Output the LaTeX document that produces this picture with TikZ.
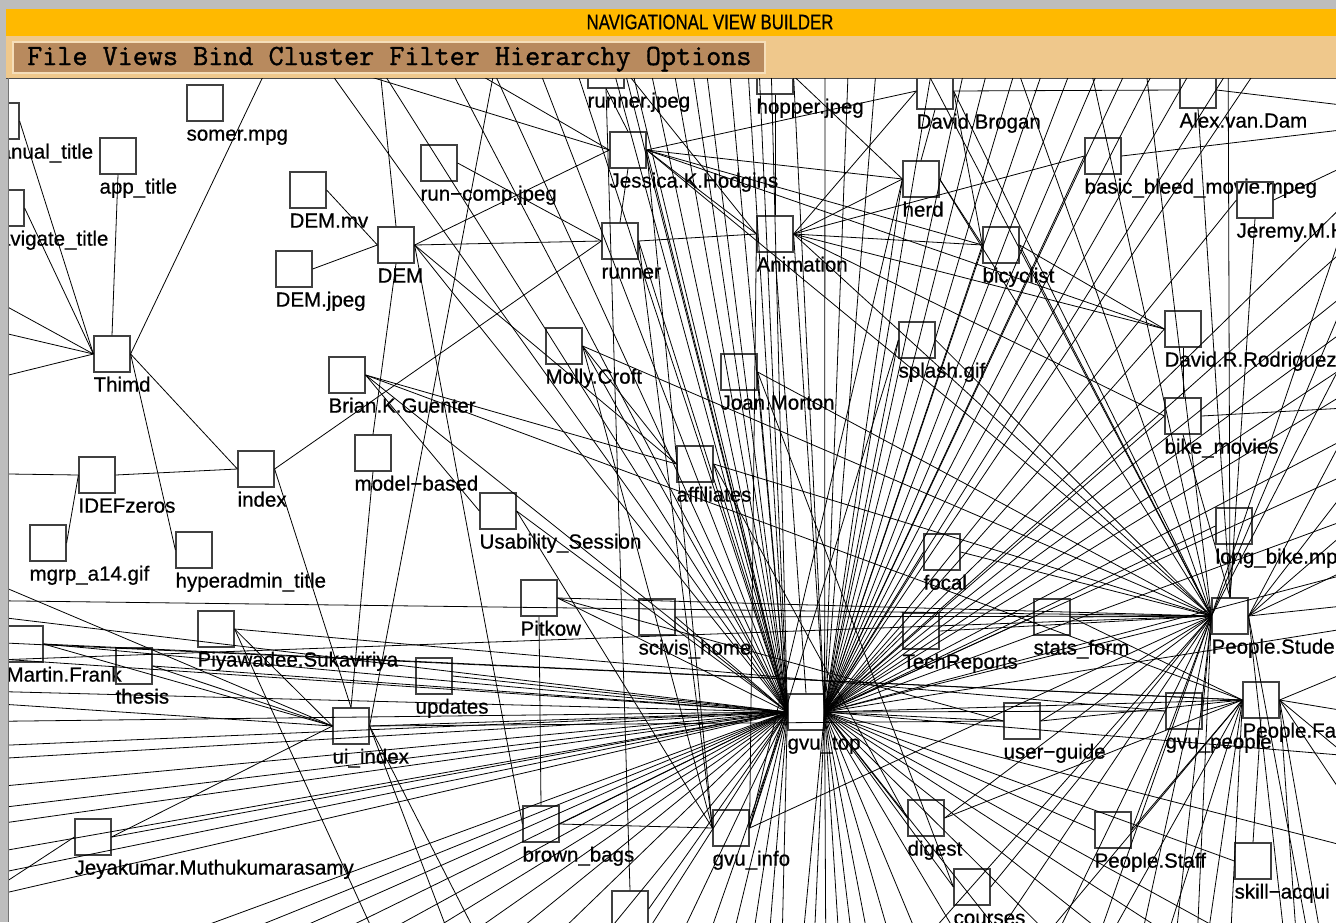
\documentclass[tikz,border=0pt]{standalone}
\usepackage{fontspec}
\setmainfont{Liberation Sans}
\newfontfamily\lblfont[FakeBold=0.6]{Liberation Sans}
\newfontfamily\menufont[FakeBold=1.2]{Latin Modern Mono}
\usepackage{graphicx}

\definecolor{titleorange}{HTML}{FFB900}
\definecolor{menutan}{HTML}{EFC88C}
\definecolor{menubrown}{HTML}{B88A5E}
\definecolor{framegray}{HTML}{BDBDBD}

\tikzset{
  box/.style={draw=black!75, line width=1.2pt, minimum size=36pt, inner sep=0pt},
  lbl/.style={anchor=base west, inner sep=0pt, font=\lblfont\fontsize{20.5}{22}\selectfont},
  link/.style={line width=0.8pt}
}

\begin{document}
\begin{tikzpicture}[x=1pt,y=-1pt]
\useasboundingbox (0,0) rectangle (1336,922);

\fill[framegray] (0,0) rectangle (1336,922);
\fill[titleorange] (6,9) rectangle (1336,36);
\node (title) at (710,22) {\lblfont\fontsize{21}{22}\selectfont\scalebox{0.8}[1]{NAVIGATIONAL VIEW BUILDER}};
\fill[menutan] (6,36) rectangle (1336,78);
\draw[fill=menubrown, draw=menutan!60!white, line width=1.5pt] (13,42) rectangle (765,73);
\node[anchor=base west, inner sep=0pt] (menu) at (27,65) {\menufont\fontsize{29.3}{30}\selectfont File Views Bind Cluster Filter Hierarchy Options};
\fill[white] (9,78) rectangle (1336,922);
\draw[black!70, line width=1pt] (6,78) -- (1336,78);

\begin{scope}
\clip (9,78) rectangle (1336,922);

\foreach \n/\x/\y/\t in {
  manual/1/121/manual\_title, apptitle/118/156/app\_title, navigate/6/208/navigate\_title,
  somer/205/103/somer.mpg, demmv/308/190/DEM.mv, demjpeg/294/269/DEM.jpeg, dem/396/245/DEM,
  thimd/112/354/Thimd, runcomp/439/163/run−comp.jpeg, runnerjpeg/606/70/runner.jpeg,
  jessica/628/150/Jessica.K.Hodgins, runner/620/241/runner, hopper/775/76/hopper.jpeg,
  animation/775/234/Animation, molly/564/346/Molly.Croft, joan/739/372/Joan.Morton,
  brogan/935/91/David.Brogan, alex/1198/90/Alex.van.Dam, basic/1103/156/basic\_bleed\_movie.mpeg,
  herd/921/179/herd, jeremy/1255/200/Jeremy.M.H, bicyclist/1001/245/bicyclist,
  splash/917/340/splash.gif, rodriguez/1183/329/David.R.Rodriguez, bikemovies/1183/416/bike\_movies,
  longbike/1234/526/long\_bike.mp, students/1230/616/People.Stude, stats/1052/617/stats\_form,
  focal/942/552/focal, techrep/921/631/TechReports, affiliates/695/464/affiliates,
  brian/347/375/Brian.K.Guenter, model/373/453/model−based, index/256/469/index,
  idef/97/475/IDEFzeros, mgrp/48/543/mgrp\_a14.gif, hyper/194/550/hyperadmin\_title,
  usability/498/511/Usability\_Session, pitkow/539/598/Pitkow, scivis/657/617/scivis\_home,
  piya/216/629/Piyawadee.Sukaviriya, martin/25/644/Martin.Frank, thesis/134/666/thesis,
  updates/434/676/updates, uiindex/351/726/ui\_index, gvutop/806/712/gvu\_top,
  userguide/1022/721/user−guide, gvupeople/1184/711/gvu\_people, faculty/1261/700/People.Fa,
  jeyakumar/93/837/Jeyakumar.Muthukumarasamy, brown/541/824/brown\_bags, gvuinfo/731/828/gvu\_info,
  digest/926/818/digest, courses/972/887/courses, staff/1113/830/People.Staff,
  skill/1253/861/skill−acqui}
{
  \node[box] (\n) at (\x,\y) {};
  \node[lbl] (\n-t) at ([yshift=-19pt]\n.south west) {\t};
}
\node[box] (bottombox) at (630,909) {};

\foreach \i/\x/\y in {1/-60/270, 2/-60/318, 3/-60/392, 4/-60/473, 5/-60/560, 6/-60/925, 7/-60/700}
  \coordinate (lf\i) at (\x,\y);
\foreach \i/\x/\y in {1/290/20, 2/375/20, 3/300/30, 4/420/40, 5/250/40, 6/500/40, 7/1228/20}
  \coordinate (tp\i) at (\x,\y);
\foreach \i/\x/\y in {1/1400/123, 2/1400/112, 3/1400/140, 4/1400/405}
  \coordinate (rt\i) at (\x,\y);
\foreach \i/\x/\y in {1/470/990, 2/505/990, 3/400/990}
  \coordinate (bt\i) at (\x,\y);

\foreach \i/\x/\y in {1/-60/690, 2/-60/722, 3/-60/748, 4/-60/762, 5/-60/792, 6/-60/832, 7/-60/862,
  8/-60/885, 9/-60/908, 10/30/990, 11/100/990, 12/160/990, 13/220/990, 14/280/990, 15/335/990,
  16/390/990, 17/445/990, 18/500/990, 19/560/990, 20/610/990, 21/655/990, 22/690/990, 23/720/990,
  24/745/990, 25/765/990, 26/781/990, 27/560/20, 28/640/20, 29/700/20, 30/745/20, 31/770/20,
  32/600/20, 33/620/20, 34/665/20, 35/685/20, 36/725/20, 37/757/20, 38/350/20, 39/430/30,
  40/470/20, 41/520/20, 42/-60/610, 43/-60/655, 44/-60/815}
  \coordinate (gw\i) at (\x,\y);
\foreach \i/\x/\y in {1/798/990, 2/812/990, 3/826/990, 4/842/990, 5/858/990, 6/878/990, 7/905/990,
  8/940/990, 9/990/990, 10/1045/990, 11/1105/990, 12/1175/990, 13/1255/990, 14/1330/990,
  15/1400/860, 16/1400/450, 17/1400/360, 18/1400/290, 19/1400/200, 20/1000/20, 21/1060/20,
  22/1120/20, 23/1180/20, 24/1290/20, 25/850/20, 26/880/20, 27/825/20, 28/1400/150,
  29/1400/250, 30/1400/330, 31/1400/410, 32/1400/500, 33/1400/560, 34/1400/620, 35/1400/760,
  36/940/20, 37/975/20, 38/1030/20, 39/1090/20, 40/1150/20, 41/1220/20, 42/1260/20}
  \coordinate (ge\i) at (\x,\y);
\foreach \i/\x/\y in {1/880/990, 2/960/990, 3/1030/990, 4/1080/990, 5/1130/990, 6/1170/990,
  7/1195/990, 8/-60/662, 9/1400/250, 10/1400/60, 11/1000/20, 12/1080/20, 13/1140/20,
  14/900/20, 15/-60/600, 16/1400/170}
  \coordinate (sw\i) at (\x,\y);
\foreach \i/\x/\y in {1/1400/420, 2/1400/485, 3/1400/545, 4/1400/600, 5/1290/990, 6/1318/990, 7/1400/330}
  \coordinate (se\i) at (\x,\y);
\foreach \i/\x/\y in {1/1000/990, 2/1080/990, 3/1150/990, 4/1200/990, 5/1228/990, 6/-60/640}
  \coordinate (fw\i) at (\x,\y);
\foreach \i/\x/\y in {1/1400/650, 2/1400/720, 3/1400/800, 4/1400/880, 5/1300/990, 6/1330/990}
  \coordinate (fe\i) at (\x,\y);

\foreach \i in {1,...,44} \draw[link] (gvutop.west) -- (gw\i);
\foreach \i in {1,...,42} \draw[link] (gvutop.east) -- (ge\i);
\foreach \i in {1,...,16} \draw[link] (students.west) -- (sw\i);
\foreach \i in {1,...,7} \draw[link] (students.east) -- (se\i);
\foreach \i in {1,...,6} \draw[link] (faculty.west) -- (fw\i);
\foreach \i in {1,...,6} \draw[link] (faculty.east) -- (fe\i);

\foreach \a/\b in {manual.east/thimd.west, navigate.east/thimd.west, apptitle.south/thimd.north,
  thimd.east/index.west, thimd.east/hyper.west, thimd.east/tp1, lf1/thimd.west, lf2/thimd.west,
  lf3/thimd.west, lf4/idef.west, idef.east/index.west, mgrp.east/idef.west, index.east/runner.west,
  index.east/uiindex.north}
  \draw[link] (\a) -- (\b);

\foreach \a/\b in {demmv.east/dem.west, demjpeg.east/dem.west, dem.north/tp2, tp3/gvutop.west,
  dem.east/runner.west, runner.east/animation.west, dem.east/jessica.west, dem.east/gvutop.west,
  dem.south/model.north, model.south/uiindex.north, dem.east/brown.west, dem.east/affiliates.west,
  runcomp.east/runner.west, runner.north/jessica.south, runner.east/gvutop.west, tp4/jessica.west,
  tp5/jessica.west, tp6/uiindex.east}
  \draw[link] (\a) -- (\b);

\foreach \a/\b in {jessica.east/animation.west, jessica.east/herd.west, jessica.east/bicyclist.west,
  jessica.east/brogan.west, jessica.east/rodriguez.west, jessica.east/gvutop.west,
  jessica.east/students.west, runnerjpeg.south/jessica.north, runnerjpeg.east/gvutop.west,
  runnerjpeg.east/animation.west, hopper.south/animation.north, hopper.east/herd.west,
  animation.east/herd.west, animation.east/brogan.west, animation.east/bicyclist.west,
  animation.east/rodriguez.west, animation.east/bikemovies.west, animation.south/gvutop.north,
  animation.west/gvuinfo.east, animation.east/basic.west, runnerjpeg.south/bottombox.north,
  jessica.east/gvuinfo.west, runner.east/gvuinfo.west, molly.east/gvuinfo.west,
  hopper.east/gvutop.east, animation.east/gvutop.east}
  \draw[link] (\a) -- (\b);

\foreach \a/\b in {brogan.south/herd.north, herd.east/bicyclist.west, herd.west/gvutop.east,
  brogan.east/bicyclist.west, brogan.east/students.west, brogan.east/alex.west, alex.east/rt2,
  alex.south/students.north, basic.east/rt1, jeremy.south/students.north, jeremy.east/rt3,
  bicyclist.east/rodriguez.west, rodriguez.south/bikemovies.north, bikemovies.east/rt4,
  bikemovies.south/students.north, longbike.south/students.north, tp7/students.north,
  splash.west/gvutop.east, splash.east/students.west, bicyclist.west/gvutop.east,
  herd.east/students.west, bicyclist.east/students.west, animation.east/students.west,
  herd.west/gvuinfo.east, splash.west/gvuinfo.east, basic.west/gvutop.east,
  rodriguez.west/gvutop.east, bikemovies.west/gvutop.east, longbike.west/gvutop.east,
  jeremy.west/gvutop.east}
  \draw[link] (\a) -- (\b);

\foreach \a/\b in {brian.east/faculty.west, brian.east/affiliates.west, brian.east/usability.west,
  brian.east/gvutop.west, molly.east/gvutop.west, molly.east/affiliates.west, molly.east/students.west,
  joan.east/gvutop.west, joan.east/students.west, affiliates.east/students.west,
  affiliates.east/gvutop.west, usability.east/gvuinfo.west, usability.east/gvutop.west,
  pitkow.east/students.west, pitkow.east/gvutop.west, pitkow.east/userguide.west,
  pitkow.south/brown.north, scivis.east/gvutop.west, scivis.east/students.west,
  affiliates.east/digest.west, joan.east/courses.west}
  \draw[link] (\a) -- (\b);

\foreach \a/\b in {techrep.east/students.west, techrep.west/gvutop.east, focal.east/students.west,
  focal.west/gvutop.east, stats.east/students.west, stats.west/gvutop.east, stats.east/faculty.west,
  userguide.west/gvutop.east, userguide.east/students.west, userguide.east/faculty.west,
  gvupeople.west/gvutop.east, gvupeople.east/faculty.west, gvupeople.east/students.west,
  faculty.west/gvutop.east, students.west/gvutop.east, digest.west/gvutop.east,
  digest.east/students.west, digest.east/faculty.west, courses.west/gvutop.east,
  courses.east/students.west, staff.west/gvutop.east, staff.east/students.west,
  staff.east/faculty.west, skill.west/gvutop.east, skill.north/faculty.south}
  \draw[link] (\a) -- (\b);

\foreach \a/\b in {updates.east/gvutop.west, uiindex.east/gvutop.west, uiindex.east/userguide.west,
  uiindex.east/bt1, uiindex.east/bt2, piya.east/uiindex.west, piya.east/gvupeople.west, piya.east/bt3,
  martin.east/uiindex.west, martin.east/gvutop.west, martin.east/faculty.west,
  thesis.east/uiindex.west, thesis.east/gvutop.west, jeyakumar.east/uiindex.west,
  jeyakumar.east/gvutop.west, lf6/jeyakumar.west, brown.east/gvuinfo.west, brown.east/gvutop.west,
  gvuinfo.east/gvutop.west, gvuinfo.east/students.west, bottombox.east/gvutop.west,
  lf5/uiindex.west, lf7/uiindex.west}
  \draw[link] (\a) -- (\b);
\end{scope}

\draw[black!55, line width=1pt] (8.5,78) -- (8.5,922);
\end{tikzpicture}
\end{document}
